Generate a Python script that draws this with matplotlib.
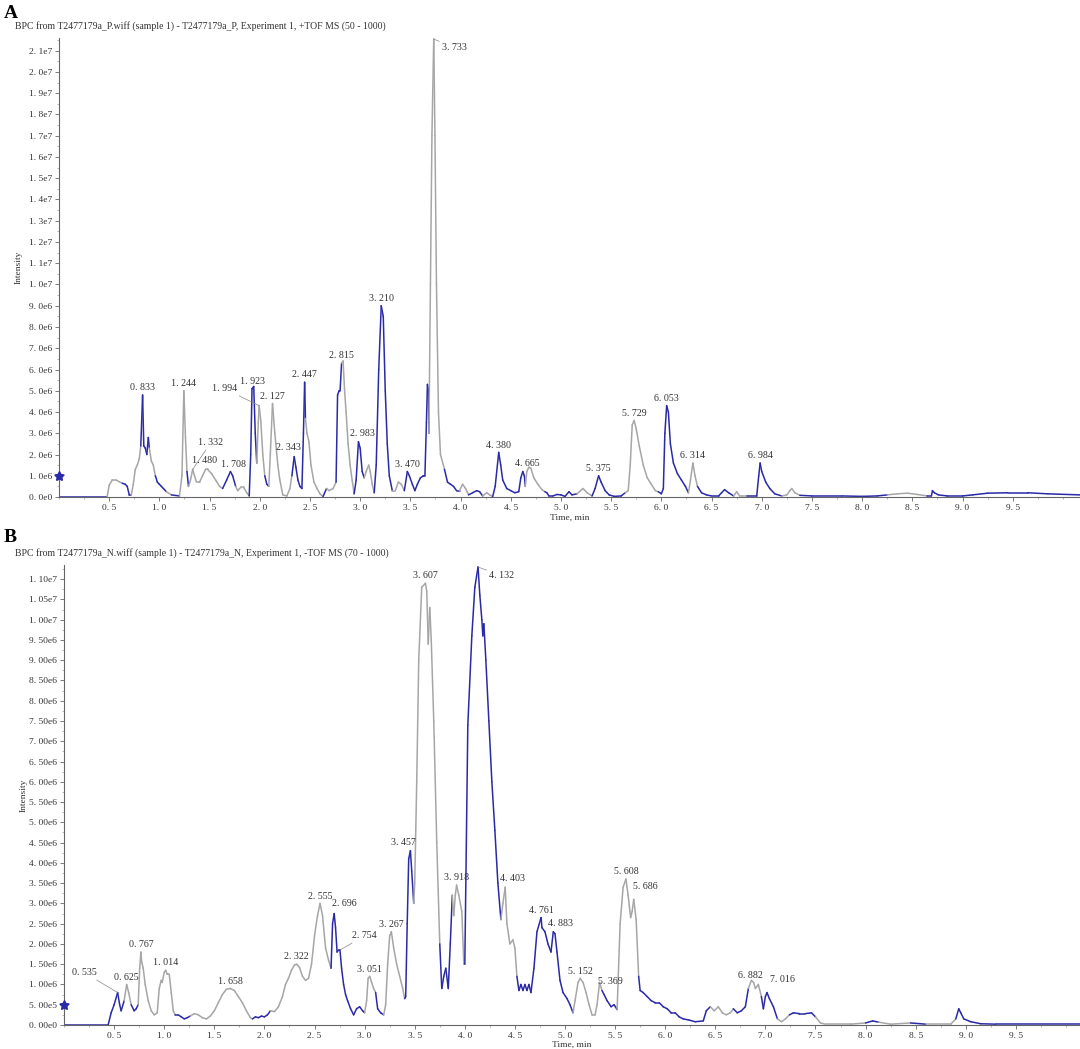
import numpy as np
from matplotlib import pyplot as plt
from matplotlib.collections import LineCollection
from matplotlib.ticker import FuncFormatter, MultipleLocator

# ---- panel A: BPC positive mode (time in min, intensity in 1e6 counts)
a_time = [0.00, 0.48, 0.50, 0.53, 0.57, 0.60, 0.63, 0.66, 0.68, 0.70, 0.72, 0.74, 0.76, 0.78, 0.80, 0.815,
          0.833, 0.845, 0.86, 0.875, 0.89, 0.90, 0.92, 0.94, 0.96, 0.98, 1.00, 1.02, 1.04, 1.07, 1.12, 1.20,
          1.225, 1.244, 1.26, 1.275, 1.29, 1.31, 1.332, 1.35, 1.37, 1.40, 1.43, 1.46, 1.48, 1.52, 1.56, 1.60,
          1.63, 1.67, 1.708, 1.73, 1.76, 1.78, 1.81, 1.84, 1.87, 1.895, 1.91, 1.923, 1.94, 1.955, 1.97, 1.985,
          1.994, 2.01, 2.03, 2.05, 2.07, 2.09, 2.105, 2.127, 2.15, 2.18, 2.20, 2.23, 2.27, 2.30, 2.32, 2.343,
          2.36, 2.38, 2.40, 2.42, 2.435, 2.447, 2.455, 2.47, 2.49, 2.51, 2.54, 2.57, 2.60, 2.63, 2.665, 2.69,
          2.73, 2.76, 2.775, 2.79, 2.80, 2.815, 2.83, 2.845, 2.86, 2.88, 2.90, 2.92, 2.94, 2.96, 2.983, 3.00,
          3.02, 3.04, 3.06, 3.085, 3.10, 3.12, 3.14, 3.16, 3.185, 3.21, 3.23, 3.25, 3.27, 3.29, 3.32, 3.35,
          3.38, 3.41, 3.44, 3.47, 3.49, 3.52, 3.545, 3.57, 3.60, 3.63, 3.645, 3.66, 3.67, 3.68, 3.685, 3.70,
          3.715, 3.733, 3.745, 3.76, 3.78, 3.80, 3.84, 3.87, 3.90, 3.93, 3.96, 3.99, 4.02, 4.05, 4.08, 4.12,
          4.16, 4.19, 4.22, 4.26, 4.29, 4.32, 4.345, 4.38, 4.40, 4.42, 4.46, 4.50, 4.54, 4.58, 4.60, 4.62,
          4.635, 4.645, 4.66, 4.68, 4.70, 4.73, 4.77, 4.81, 4.84, 4.86, 4.88, 4.92, 4.96, 5.00, 5.04, 5.08,
          5.11, 5.16, 5.22, 5.26, 5.31, 5.34, 5.375, 5.40, 5.44, 5.48, 5.53, 5.60, 5.64, 5.67, 5.69, 5.71,
          5.729, 5.75, 5.78, 5.82, 5.86, 5.90, 5.94, 5.97, 6.00, 6.02, 6.035, 6.053, 6.07, 6.09, 6.12, 6.16,
          6.20, 6.24, 6.27, 6.29, 6.314, 6.335, 6.36, 6.40, 6.45, 6.50, 6.57, 6.60, 6.63, 6.67, 6.72, 6.75,
          6.78, 6.85, 6.95, 6.97, 6.984, 7.00, 7.04, 7.08, 7.13, 7.20, 7.25, 7.28, 7.30, 7.33, 7.38, 7.50,
          7.80, 8.00, 8.15, 8.25, 8.35, 8.45, 8.55, 8.65, 8.69, 8.70, 8.72, 8.76, 8.85, 9.00, 9.10, 9.25,
          9.45, 9.65, 9.85, 10.17]
a_int = [0.02, 0.02, 0.55, 0.80, 0.80, 0.72, 0.65, 0.60, 0.50, 0.10, 0.10, 0.60, 1.30, 1.50, 1.80, 2.40,
         4.80, 2.40, 2.30, 2.00, 2.80, 2.30, 1.70, 1.50, 1.00, 0.70, 0.60, 0.50, 0.40, 0.25, 0.10, 0.05,
         1.00, 5.00, 2.80, 1.20, 0.50, 0.80, 1.30, 1.00, 0.70, 0.70, 1.00, 1.30, 1.30, 1.10, 0.80, 0.50,
         0.40, 0.80, 1.20, 1.00, 0.50, 0.30, 0.45, 0.45, 0.20, 0.05, 2.00, 5.10, 5.20, 3.00, 1.60, 3.50,
         4.30, 3.60, 2.00, 1.00, 0.60, 0.50, 2.00, 4.40, 3.00, 1.50, 0.80, 0.10, 0.05, 0.40, 1.00, 1.90,
         1.40, 0.80, 0.50, 0.40, 3.00, 5.40, 3.70, 3.00, 2.60, 1.50, 0.70, 0.40, 0.15, 0.02, 0.40, 0.30,
         0.40, 0.70, 4.80, 5.00, 5.00, 6.30, 6.40, 5.00, 4.00, 2.50, 1.50, 0.80, 0.15, 0.80, 2.60, 2.30,
         1.20, 0.90, 1.20, 1.50, 1.20, 0.60, 0.20, 1.50, 6.00, 9.00, 8.50, 5.00, 2.50, 1.00, 0.30, 0.30,
         0.70, 0.60, 0.30, 1.20, 1.00, 0.60, 0.30, 0.60, 0.90, 1.00, 1.00, 3.50, 5.30, 5.00, 3.00, 10.0,
         17.0, 21.55, 17.0, 10.0, 4.00, 2.00, 1.30, 0.70, 0.60, 0.50, 0.30, 0.30, 0.60, 0.40, 0.10, 0.20,
         0.30, 0.25, 0.05, 0.20, 0.10, 0.02, 0.50, 2.10, 1.50, 0.80, 0.40, 0.30, 0.20, 0.25, 0.90, 1.20,
         1.00, 0.50, 1.20, 1.40, 1.35, 0.90, 0.60, 0.35, 0.25, 0.20, 0.05, 0.05, 0.12, 0.10, 0.03, 0.25,
         0.10, 0.15, 0.40, 0.20, 0.05, 0.40, 1.00, 0.70, 0.30, 0.10, 0.03, 0.05, 0.20, 0.30, 1.50, 3.40,
         3.60, 3.20, 2.40, 1.50, 0.90, 0.60, 0.30, 0.25, 0.15, 0.40, 3.00, 4.30, 4.00, 2.50, 1.60, 1.10,
         0.80, 0.50, 0.20, 0.80, 1.60, 1.00, 0.50, 0.20, 0.10, 0.05, 0.05, 0.20, 0.35, 0.20, 0.05, 0.25,
         0.05, 0.05, 0.05, 1.00, 1.60, 1.20, 0.70, 0.40, 0.15, 0.05, 0.10, 0.30, 0.40, 0.20, 0.08, 0.05,
         0.05, 0.03, 0.05, 0.10, 0.15, 0.18, 0.12, 0.05, 0.05, 0.30, 0.20, 0.10, 0.05, 0.05, 0.10, 0.18,
         0.20, 0.20, 0.15, 0.10]
a_blue = [(0, 0.49), (0.63, 0.72), (0.81, 0.90), (0.97, 1.06), (1.15, 1.21), (1.27, 1.30), (1.64, 1.75),
          (1.90, 1.97), (2.05, 2.095), (2.31, 2.455), (2.62, 2.66), (2.76, 2.81), (2.94, 3.04), (3.14, 3.33),
          (3.44, 3.685), (3.84, 3.99), (4.10, 4.22), (4.33, 4.645), (4.83, 5.15), (5.30, 5.62), (5.97, 6.27),
          (6.38, 6.72), (6.82, 7.22), (7.40, 8.25), (8.62, 10.2)]
a_peaks = ['0.833', '1.244', '1.332', '1.480', '1.708', '1.923', '1.994', '2.127', '2.343', '2.447',
           '2.815', '2.983', '3.210', '3.470', '3.733', '4.380', '4.665', '5.375', '5.729', '6.053',
           '6.314', '6.984']

# ---- panel B: BPC negative mode
b_time = [0.00, 0.44, 0.47, 0.50, 0.535, 0.555, 0.57, 0.60, 0.625, 0.645, 0.67, 0.70, 0.72, 0.74, 0.755,
          0.767, 0.775, 0.79, 0.81, 0.84, 0.87, 0.90, 0.93, 0.95, 0.97, 0.98, 1.00, 1.014, 1.03, 1.05, 1.07,
          1.09, 1.11, 1.14, 1.17, 1.20, 1.23, 1.26, 1.30, 1.34, 1.38, 1.42, 1.46, 1.50, 1.54, 1.58, 1.62,
          1.658, 1.70, 1.74, 1.78, 1.82, 1.86, 1.88, 1.91, 1.94, 1.97, 2.00, 2.03, 2.06, 2.10, 2.14, 2.18,
          2.21, 2.24, 2.27, 2.30, 2.322, 2.35, 2.38, 2.41, 2.44, 2.47, 2.50, 2.53, 2.555, 2.58, 2.61, 2.64,
          2.665, 2.68, 2.696, 2.71, 2.725, 2.74, 2.754, 2.77, 2.79, 2.81, 2.83, 2.86, 2.89, 2.92, 2.95, 2.98,
          3.00, 3.02, 3.035, 3.051, 3.07, 3.09, 3.11, 3.13, 3.16, 3.19, 3.21, 3.23, 3.25, 3.267, 3.29, 3.32,
          3.35, 3.38, 3.40, 3.41, 3.425, 3.44, 3.457, 3.47, 3.49, 3.50, 3.52, 3.54, 3.57, 3.607, 3.62, 3.635,
          3.65, 3.665, 3.69, 3.72, 3.75, 3.77, 3.79, 3.81, 3.835, 3.855, 3.875, 3.89, 3.905, 3.918, 3.94,
          3.97, 3.99, 4.00, 4.03, 4.07, 4.10, 4.132, 4.15, 4.17, 4.18, 4.19, 4.21, 4.24, 4.27, 4.30, 4.33,
          4.36, 4.38, 4.403, 4.42, 4.45, 4.48, 4.50, 4.52, 4.54, 4.56, 4.58, 4.60, 4.62, 4.64, 4.66, 4.69,
          4.72, 4.761, 4.77, 4.80, 4.83, 4.86, 4.883, 4.90, 4.92, 4.95, 4.98, 5.02, 5.05, 5.08, 5.10, 5.13,
          5.152, 5.18, 5.21, 5.24, 5.27, 5.30, 5.32, 5.345, 5.369, 5.39, 5.42, 5.46, 5.49, 5.52, 5.55, 5.58,
          5.608, 5.63, 5.655, 5.67, 5.686, 5.71, 5.735, 5.75, 5.78, 5.82, 5.86, 5.90, 5.94, 5.98, 6.02, 6.06,
          6.10, 6.14, 6.18, 6.24, 6.30, 6.38, 6.41, 6.45, 6.49, 6.53, 6.57, 6.61, 6.65, 6.68, 6.72, 6.76,
          6.80, 6.83, 6.86, 6.882, 6.90, 6.93, 6.96, 6.98, 7.00, 7.016, 7.04, 7.08, 7.12, 7.16, 7.20, 7.24,
          7.28, 7.34, 7.40, 7.46, 7.50, 7.55, 7.60, 7.85, 8.00, 8.07, 8.13, 8.25, 8.45, 8.60, 8.85, 8.90,
          8.93, 8.95, 8.98, 9.05, 9.15, 9.30, 10.14]
b_int = [0.00, 0.00, 0.30, 0.50, 0.80, 0.50, 0.35, 0.60, 1.00, 0.80, 0.50, 0.35, 0.40, 0.50, 1.40,
         1.80, 1.55, 1.40, 1.00, 0.60, 0.35, 0.25, 0.30, 0.90, 1.10, 1.05, 1.30, 1.35, 1.25, 1.25, 0.80,
         0.35, 0.25, 0.25, 0.20, 0.15, 0.18, 0.22, 0.28, 0.25, 0.18, 0.15, 0.22, 0.35, 0.55, 0.75, 0.88,
         0.90, 0.85, 0.70, 0.55, 0.35, 0.18, 0.15, 0.20, 0.18, 0.22, 0.20, 0.25, 0.35, 0.33, 0.45, 0.70,
         1.00, 1.15, 1.35, 1.48, 1.50, 1.42, 1.20, 1.10, 1.15, 1.50, 2.20, 2.70, 3.00, 2.70, 1.90, 1.60,
         1.40, 2.50, 2.75, 2.40, 1.80, 1.85, 1.85, 1.40, 1.00, 0.75, 0.60, 0.40, 0.25, 0.40, 0.45, 0.35,
         0.30, 0.60, 1.15, 1.20, 1.05, 0.90, 0.80, 0.40, 0.30, 0.25, 0.50, 1.50, 2.20, 2.30, 1.90, 1.50,
         1.20, 0.90, 0.65, 0.70, 2.50, 4.10, 4.30, 3.80, 3.00, 3.50, 6.00, 9.00, 10.80, 10.90, 10.70, 9.40,
         10.30, 9.50, 7.50, 4.50, 2.00, 0.90, 1.20, 1.40, 0.90, 2.00, 3.20, 2.70, 3.20, 3.45, 3.20,
         2.80, 1.50, 1.50, 7.40, 9.60, 10.80, 11.30, 10.60, 10.00, 9.60, 9.90, 9.00, 7.50, 6.00, 4.80, 3.50,
         2.60, 3.00, 3.40, 2.50, 2.00, 2.10, 1.90, 1.20, 0.85, 1.00, 0.85, 1.00, 0.85, 1.00, 0.80, 1.40,
         2.30, 2.65, 2.40, 2.30, 2.00, 1.80, 2.30, 2.25, 1.80, 1.10, 0.80, 0.65, 0.50, 0.30, 0.60, 1.05,
         1.15, 1.05, 0.80, 0.50, 0.25, 0.25, 0.50, 1.05, 0.85, 0.75, 0.60, 0.45, 0.50, 0.38, 2.50, 3.40,
         3.60, 3.20, 2.65, 2.80, 3.10, 2.60, 1.20, 0.85, 0.80, 0.70, 0.60, 0.55, 0.55, 0.45, 0.40, 0.30,
         0.30, 0.20, 0.15, 0.12, 0.08, 0.10, 0.35, 0.45, 0.35, 0.45, 0.30, 0.25, 0.30, 0.40, 0.30, 0.35,
         0.45, 0.90, 1.10, 1.05, 0.90, 1.00, 0.70, 0.40, 0.70, 0.80, 0.65, 0.45, 0.15, 0.08, 0.15, 0.25,
         0.30, 0.28, 0.28, 0.30, 0.20, 0.05, 0.02, 0.02, 0.05, 0.10, 0.07, 0.02, 0.05, 0.02, 0.02, 0.15,
         0.40, 0.30, 0.15, 0.08, 0.03, 0.02, 0.02]
b_blue = [(0, 0.59), (0.68, 0.74), (1.11, 1.27), (1.88, 2.05), (2.665, 3.00), (3.11, 3.20), (3.405, 3.495),
          (3.76, 3.88), (4.00, 4.36), (4.52, 5.09), (5.36, 5.53), (5.74, 5.93), (5.96, 6.45), (6.68, 6.82),
          (6.97, 7.12), (7.25, 7.52), (8.0, 8.12), (8.4, 8.6), (8.88, 9.25), (9.4, 10.2)]
b_peaks = ['0.535', '0.625', '0.767', '1.014', '1.658', '2.322', '2.555', '2.696', '2.754', '3.051',
           '3.267', '3.457', '3.607', '3.918', '4.132', '4.403', '4.761', '4.883', '5.152', '5.369',
           '5.608', '5.686', '6.882', '7.016']

a_title = 'BPC from T2477179a_P.wiff (sample 1) - T2477179a_P, Experiment 1, +TOF MS (50 - 1000)'
b_title = 'BPC from T2477179a_N.wiff (sample 1) - T2477179a_N, Experiment 1, -TOF MS (70 - 1000)'

BLUE = '#2a2aa8'
GREY = '#a6a6a6'
FONT = 'Liberation Serif'

# special label placements (offset in points, leader line or not)
a_offsets = {'1.332': (4, 16, True), '1.994': (-16, 9, True), '3.733': (6, -3, True),
             '2.343': (-4, 3, False), '2.983': (3, 3, False), '1.480': (-2, 3, False),
             '1.708': (2, 2, False)}
b_offsets = {'0.535': (-15, 11, True), '2.696': (7, 4, False), '2.754': (9, 7, True),
             '4.132': (8, -3, True), '4.403': (5, 3, False), '5.686': (8, 6, False),
             '3.457': (-5, 3, False), '5.369': (6, 3, False), '7.016': (11, 6, False),
             '4.883': (5, 3, False), '6.882': (-2, 2, False)}


def draw_trace(ax, t, y, blue):
    t = np.asarray(t)
    y = np.asarray(y) * 1e6
    pts = np.column_stack([t, y])
    segs = np.stack([pts[:-1], pts[1:]], axis=1)
    mid = (t[:-1] + t[1:]) / 2
    cols = [BLUE if any(s <= m < e for s, e in blue) else GREY for m in mid]
    ax.add_collection(LineCollection(segs, colors=cols, linewidths=1.1, capstyle='round', joinstyle='round'))
    return t, y


def label_peaks(ax, t, y, peaks, offsets):
    for p in peaks:
        rt = float(p)
        h = np.interp(rt, t, y)
        dx, dy, line = offsets.get(p, (0, 2, False))
        ha = 'center'
        va = 'bottom'
        if dy < 0:
            ha, va = 'left', 'top'
        elif line and dx < 0:
            ha = 'right'
        elif line and dx > 0:
            ha = 'left'
        ax.annotate(p.replace('.', '. '), (rt, h), xytext=(dx, dy), textcoords='offset points',
                    ha=ha, va=va, fontsize=7.2, family=FONT, color='#333333',
                    arrowprops=dict(arrowstyle='-', color='#888888', lw=0.5,
                                    shrinkA=0, shrinkB=0) if line else None)


def style_axes(ax, xmax, ymax, ystep, fmt, star_y):
    ax.set_xlim(0, xmax)
    ax.set_ylim(0, ymax)
    ax.set_xticks(np.arange(0.5, 9.6, 0.5))
    ax.xaxis.set_major_formatter(FuncFormatter(lambda v, p: f'{v:.1f}'.replace('.', '. ')))
    ax.xaxis.set_minor_locator(MultipleLocator(0.25))
    ax.yaxis.set_major_locator(MultipleLocator(ystep))
    ax.yaxis.set_minor_locator(MultipleLocator(ystep / 2))
    ax.yaxis.set_major_formatter(FuncFormatter(fmt))
    ax.spines['right'].set_visible(False)
    ax.spines['top'].set_visible(False)
    for s in ['left', 'bottom']:
        ax.spines[s].set_color('#666666')
        ax.spines[s].set_linewidth(0.8)
    ax.tick_params(which='major', length=3, width=0.6, color='#666666', labelsize=6.8,
                   labelcolor='#333333', pad=2)
    ax.tick_params(which='minor', length=1.5, width=0.5, color='#999999')
    for lab in ax.get_xticklabels() + ax.get_yticklabels():
        lab.set_family(FONT)
    ax.set_xlabel('Time, min', fontsize=6.8, family=FONT, color='#333333', labelpad=1)
    ax.set_ylabel('Intensity', fontsize=6.8, family=FONT, color='#333333')
    ax.yaxis.set_label_coords(-0.036, 0.5)
    ax.plot([0], [star_y], marker=(5, 1, 0), markersize=7, color=BLUE, clip_on=False, zorder=5)


def fmt_a(v, p):
    if v == 0:
        return '0. 0e0'
    if v < 9.99e6:
        return f'{v / 1e6:.1f}e6'.replace('.', '. ')
    return f'{v / 1e7:.1f}e7'.replace('.', '. ')


def fmt_b(v, p):
    if v == 0:
        return '0. 00e0'
    if v < 0.99e6:
        return f'{v / 1e5:.2f}e5'.replace('.', '. ')
    if v < 9.99e6:
        return f'{v / 1e6:.2f}e6'.replace('.', '. ')
    return f'{v / 1e7:.2f}e7'.replace('.', '. ')


fig = plt.figure(figsize=(10.8, 10.49), dpi=100)
fig.patch.set_facecolor('white')

axA = fig.add_axes([0.0546, 0.5262, 0.9454, 0.4376])
tA, yA = draw_trace(axA, a_time, a_int, a_blue)
style_axes(axA, 10.17, 21.6e6, 1e6, fmt_a, 1e6)
label_peaks(axA, tA, yA, a_peaks, a_offsets)

axB = fig.add_axes([0.0593, 0.0229, 0.9407, 0.4385])
tB, yB = draw_trace(axB, b_time, b_int, b_blue)
style_axes(axB, 10.14, 11.35e6, 0.5e6, fmt_b, 0.5e6)
label_peaks(axB, tB, yB, b_peaks, b_offsets)

fig.text(4 / 1080, 1 - 14 / 1049, 'A', fontsize=14, fontweight='bold', family=FONT, va='center')
fig.text(4 / 1080, 1 - 537 / 1049, 'B', fontsize=14, fontweight='bold', family=FONT, va='center')
fig.text(15 / 1080, 1 - 26 / 1049, a_title, fontsize=7.0, family=FONT, color='#333333', va='center')
fig.text(15 / 1080, 1 - 553 / 1049, b_title, fontsize=7.0, family=FONT, color='#333333', va='center')

fig.savefig('out.png', dpi=100)
